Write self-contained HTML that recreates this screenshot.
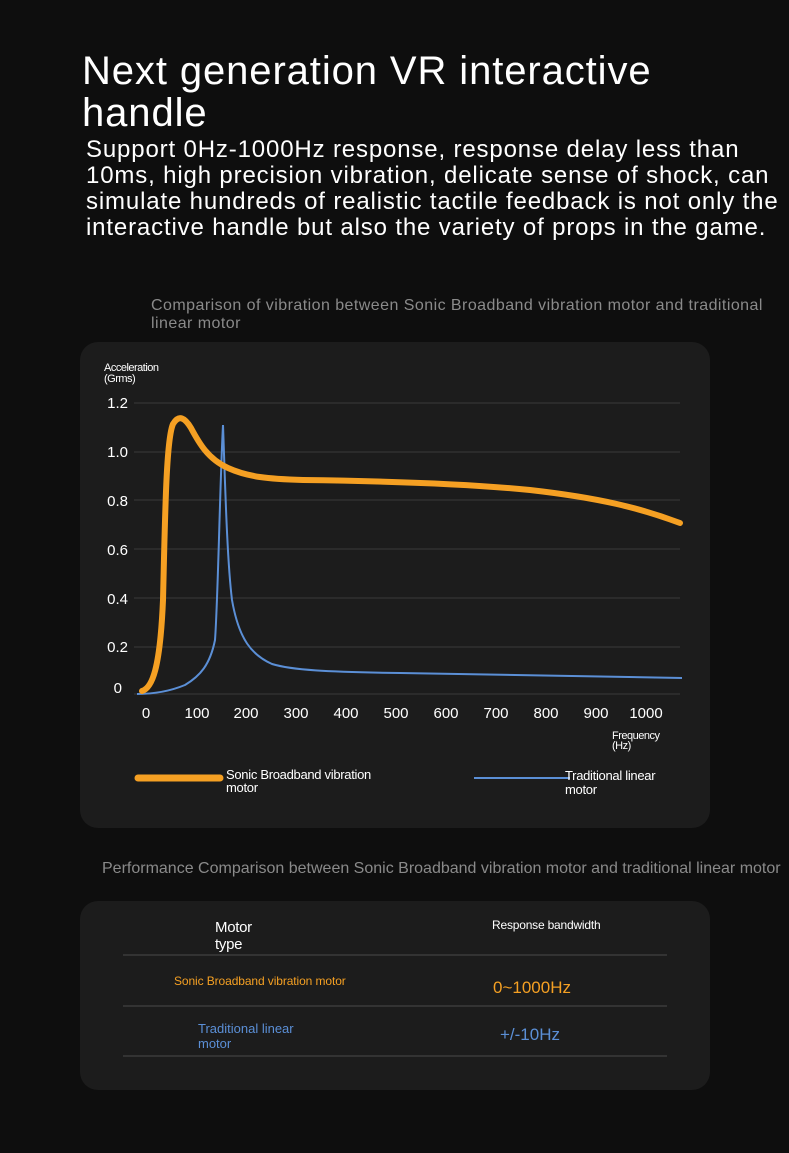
<!DOCTYPE html>
<html><head><meta charset="utf-8"><style>
html,body{margin:0;padding:0;background:#0e0e0e;width:789px;height:1153px;overflow:hidden;font-family:"Liberation Sans",sans-serif;}
.a{position:absolute;white-space:nowrap;}
</style></head><body>
<div class="a" style="left:82px;top:50px;font-size:40px;line-height:42px;color:#fff;letter-spacing:0.9px;">Next generation VR interactive<br>handle</div>
<div class="a" style="left:86px;top:137px;font-size:24px;line-height:26px;color:#fff;letter-spacing:0.85px;">Support 0Hz-1000Hz response, response delay less than<br>10ms, high precision vibration, delicate sense of shock, can<br>simulate hundreds of realistic tactile feedback is not only the<br>interactive handle but also the variety of props in the game.</div>
<div class="a" style="left:151px;top:297px;font-size:16px;line-height:18px;color:#8a8a8a;letter-spacing:0.45px;">Comparison of vibration between Sonic Broadband vibration motor and traditional<br>linear motor</div>
<div class="a" style="left:80px;top:342px;width:630px;height:486px;background:#1c1c1c;border-radius:18px;"></div>
<svg class="a" style="left:0;top:0" width="789" height="1153" font-family="Liberation Sans, sans-serif">
<g stroke="#3a3a3a" stroke-width="1">
<line x1="134" y1="403" x2="680" y2="403"/><line x1="134" y1="452" x2="680" y2="452"/><line x1="134" y1="500" x2="680" y2="500"/><line x1="134" y1="549" x2="680" y2="549"/><line x1="134" y1="598" x2="680" y2="598"/><line x1="134" y1="647" x2="680" y2="647"/><line x1="134" y1="694" x2="680" y2="694"/>
</g>
<text x="104" y="371" fill="#fff" font-size="11" letter-spacing="-0.5">Acceleration</text>
<text x="104" y="382" fill="#fff" font-size="11" letter-spacing="-0.5">(Grms)</text>
<g fill="#fff" font-size="15" text-anchor="end">
<text x="128" y="408">1.2</text><text x="128" y="457">1.0</text><text x="128" y="506">0.8</text><text x="128" y="555">0.6</text><text x="128" y="604">0.4</text><text x="128" y="652">0.2</text><text x="122" y="693">0</text>
</g>
<g fill="#fff" font-size="15" text-anchor="middle">
<text x="146" y="718">0</text><text x="197" y="718">100</text><text x="246" y="718">200</text><text x="296" y="718">300</text><text x="346" y="718">400</text><text x="396" y="718">500</text><text x="446" y="718">600</text><text x="496" y="718">700</text><text x="546" y="718">800</text><text x="596" y="718">900</text><text x="646" y="718">1000</text>
</g>
<text x="612" y="739" fill="#fff" font-size="11" letter-spacing="-0.5">Frequency</text>
<text x="612" y="749" fill="#fff" font-size="11" letter-spacing="-0.5">(Hz)</text>
<path d="M137,694 C152,694 168,692 185,685 C200,676 210,665 215,640 C218,600 220,480 223,425 C225,480 227,560 232,600 C239,640 252,655 272,664 C292,670 325,672 400,673 C500,675 600,677 682,678" fill="none" stroke="#5b8fd6" stroke-width="2"/>
<path d="M142,691 C152,688 160,670 163,600 C165,520 166,440 173,424 C179,414 185,418 191,428 C199,443 208,459 228,468 C248,477 268,479 303,480 C380,481 470,484 530,490 C600,498 640,508 680,523" fill="none" stroke="#f5a023" stroke-width="6" stroke-linecap="round"/>
<line x1="138" y1="778" x2="220" y2="778" stroke="#f5a023" stroke-width="7" stroke-linecap="round"/>
<text x="226" y="779" fill="#fff" font-size="13" letter-spacing="-0.3">Sonic Broadband vibration</text>
<text x="226" y="792" fill="#fff" font-size="13" letter-spacing="-0.3">motor</text>
<line x1="474" y1="778" x2="570" y2="778" stroke="#5b8fd6" stroke-width="2"/>
<text x="565" y="780" fill="#fff" font-size="13" letter-spacing="-0.3">Traditional linear</text>
<text x="565" y="794" fill="#fff" font-size="13" letter-spacing="-0.3">motor</text>
</svg>
<div class="a" style="left:102px;top:860px;font-size:16px;color:#8a8a8a;">Performance Comparison between Sonic Broadband vibration motor and traditional linear motor</div>
<div class="a" style="left:80px;top:901px;width:630px;height:189px;background:#1c1c1c;border-radius:18px;"></div>
<svg class="a" style="left:0;top:0" width="789" height="1153" font-family="Liberation Sans, sans-serif">
<g stroke="#4a4a4a"><line x1="123" y1="955" x2="667" y2="955"/><line x1="123" y1="1006" x2="667" y2="1006"/><line x1="123" y1="1056" x2="667" y2="1056"/></g>
<text x="215" y="932" fill="#fff" font-size="15" letter-spacing="-0.3">Motor</text>
<text x="215" y="949" fill="#fff" font-size="15" letter-spacing="-0.3">type</text>
<text x="492" y="929" fill="#fff" font-size="12" letter-spacing="-0.2">Response bandwidth</text>
<text x="174" y="985" fill="#f5a023" font-size="12" letter-spacing="-0.1">Sonic Broadband vibration motor</text>
<text x="493" y="993" fill="#f5a023" font-size="17">0~1000Hz</text>
<text x="198" y="1033" fill="#5b8fd6" font-size="13">Traditional linear</text>
<text x="198" y="1048" fill="#5b8fd6" font-size="13">motor</text>
<text x="500" y="1040" fill="#5b8fd6" font-size="17">+/-10Hz</text>
</svg>
</body></html>
